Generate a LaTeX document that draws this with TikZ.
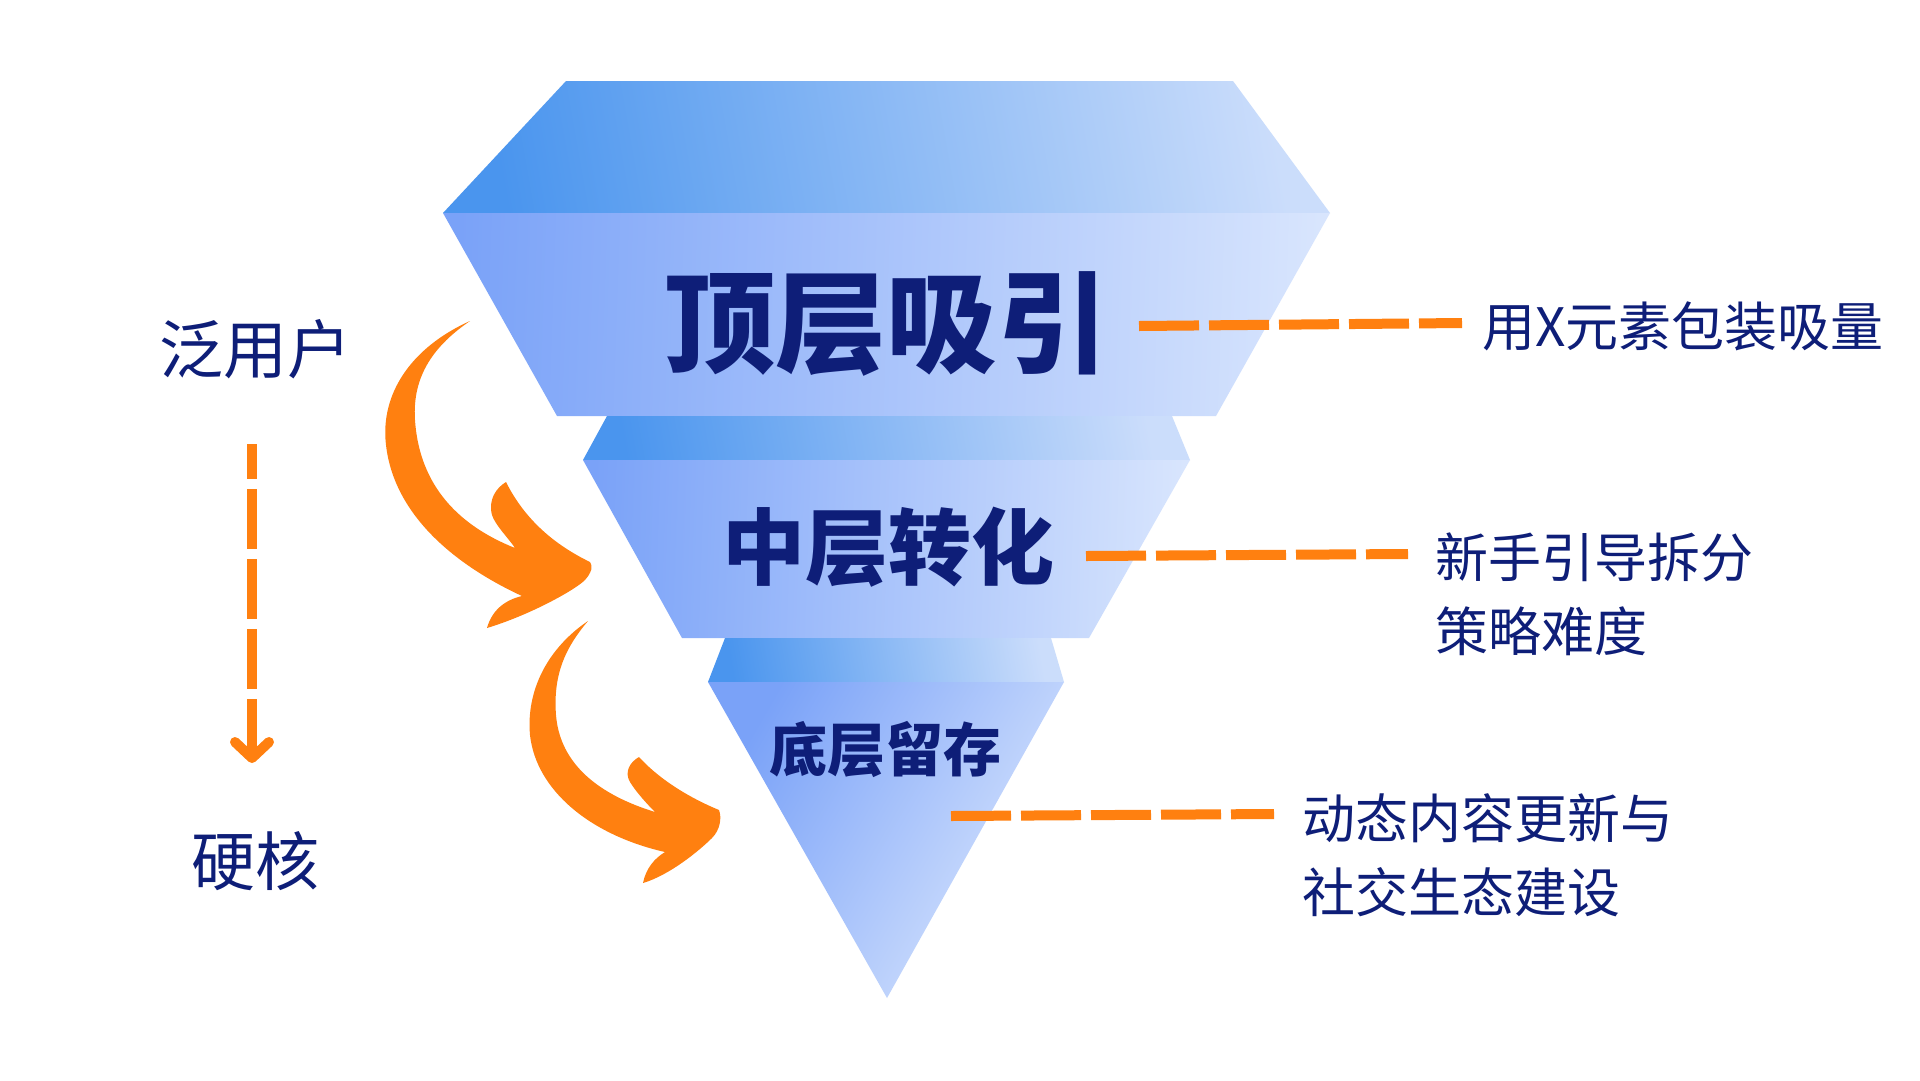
\documentclass[tikz,border=0pt]{standalone}
\usepackage{fontspec}
\setmainfont{Noto Sans CJK SC}
\usetikzlibrary{arrows.meta,calc}
\definecolor{navy}{RGB}{14,30,120}
\definecolor{org}{RGB}{255,128,16}
\definecolor{topL}{RGB}{74,149,238}
\definecolor{topR}{RGB}{203,221,251}
\definecolor{frL}{RGB}{122,162,248}
\definecolor{frR}{RGB}{216,229,253}
\begin{document}
\begin{tikzpicture}[x=1pt,y=-1pt,
  topface/.style={left color=topL,right color=topR,shading angle=100},
  frontface/.style={left color=frL,right color=frR,shading angle=88},
  headtxt/.style={text=navy,inner sep=0pt,font=\bfseries},
  labtxt/.style={text=navy,inner sep=0pt,align=left,anchor=west,font=\fontsize{53}{74}\selectfont},
  sidetxt/.style={text=navy,inner sep=0pt,font=\fontsize{64}{70}\selectfont},
  dashline/.style={draw=org,line width=10pt,dash pattern=on 60pt off 10pt},
  swoosh/.style={fill=org}]
\useasboundingbox (0,0) rectangle (1920,1080);
\fill[white] (0,0) rectangle (1920,1080);

% top layer
\shade[topface] (566,81) -- (1233,81) -- (1330,213) -- (443,213) -- cycle;
\shade[frontface] (443,213) -- (1330,213) -- (1216,416) -- (557,416) -- cycle;
% middle layer
\shade[topface] (607,416) -- (1172,416) -- (1190,460) -- (583,460) -- cycle;
\shade[frontface] (583,460) -- (1190,460) -- (1089,638) -- (682,638) -- cycle;
% bottom layer
\shade[topface] (725,638) -- (1051,638) -- (1064,682) -- (708,682) -- cycle;
\shade[left color=frL,right color=frR,shading angle=60] (708,682) -- (1064,682) -- (887,998) -- cycle;

% headings
\node[headtxt,font=\bfseries\fontsize{111}{120}\selectfont] (t1) at (886,324) {顶层吸引};
\node[headtxt,font=\bfseries\fontsize{83}{90}\selectfont] (t2) at (888,547) {中层转化};
\node[headtxt,font=\bfseries\fontsize{58}{64}\selectfont] (t3) at (885,750) {底层留存};

% right labels
\node[labtxt] (l1) at (1482,326) {用X元素包装吸量};
\node[labtxt] (l2) at (1435,594) {新手引导拆分\\策略难度};
\node[labtxt] (l3) at (1302,855) {动态内容更新与\\社交生态建设};

% dashed leaders
\coordinate (d1a) at (1139,326); \coordinate (d1b) at (1462,323);
\coordinate (d2a) at (1086,556); \coordinate (d2b) at (1408,554);
\coordinate (d3a) at (951,816);  \coordinate (d3b) at (1274,814);
\draw[dashline] (d1a) -- (d1b);
\draw[dashline] (d2a) -- (d2b);
\draw[dashline] (d3a) -- (d3b);

% left side
\node[sidetxt] (u) at (255,349) {泛用户};
\node[sidetxt] (h) at (255,861) {硬核};
\draw[draw=org,line width=10pt,dash pattern=on 60pt off 10pt,dash phase=25pt,
  -{Straight Barb[length=16pt,width=34pt,round]}]
  ($(u.center)+(-3,95)$) -- ($(h.center)+(-3,-98)$);

% curved arrows
\fill[swoosh] (470,321)
  .. controls (410,348) and (380,395) .. (386,445)
  .. controls (394,515) and (455,565) .. (522,596)
  .. controls (505,600) and (492,610) .. (487,628)
  .. controls (530,615) and (575,590) .. (585,580)
  .. controls (592,572) and (593,566) .. (590,562)
  .. controls (555,545) and (525,520) .. (506,482)
  .. controls (496,488) and (488,500) .. (492,515)
  .. controls (495,525) and (510,540) .. (515,548)
  .. controls (470,530) and (420,495) .. (415,420)
  .. controls (412,375) and (435,345) .. (470,321) -- cycle;
\fill[swoosh] (588,621)
  .. controls (548,648) and (526,690) .. (530,735)
  .. controls (536,790) and (590,835) .. (665,852)
  .. controls (655,858) and (646,868) .. (643,883)
  .. controls (670,875) and (700,850) .. (712,838)
  .. controls (720,830) and (722,818) .. (719,810)
  .. controls (690,798) and (660,780) .. (639,757)
  .. controls (630,762) and (624,772) .. (630,782)
  .. controls (636,792) and (648,805) .. (655,812)
  .. controls (600,795) and (560,765) .. (556,715)
  .. controls (553,675) and (565,648) .. (588,621) -- cycle;
\end{tikzpicture}
\end{document}
